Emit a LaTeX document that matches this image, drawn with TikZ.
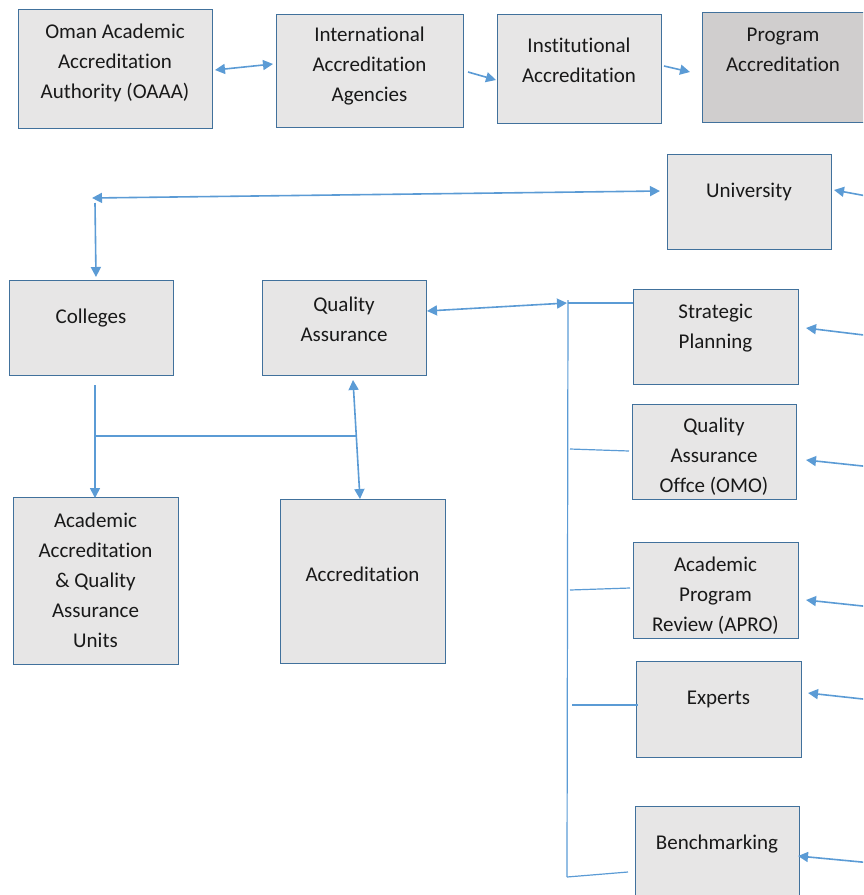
\documentclass[tikz,border=0pt]{standalone}
\usepackage{fontspec}
\setmainfont{Carlito}[Ligatures=NoCommon]
\usetikzlibrary{arrows.meta}
\definecolor{boxfill}{HTML}{E7E6E6}
\definecolor{boxdark}{HTML}{D0CECE}
\definecolor{boxline}{HTML}{41719C}
\definecolor{linkblue}{HTML}{5B9BD5}
\begin{document}
\begin{tikzpicture}[x=1pt,y=-1pt,
  box/.style={draw=boxline, fill=boxfill, line width=1.3pt, inner sep=0pt,
              anchor=north west},
  lbl/.style={align=center, font=\fontsize{21}{30}\selectfont, inner sep=0pt,
              text=black!90, yshift=-2pt},
  link/.style={draw=linkblue, line width=1.6pt},
  thin link/.style={draw=linkblue, line width=1.2pt},
  onehead/.style={-{Triangle[length=10pt,width=10pt]}},
  twohead/.style={{Triangle[length=10pt,width=10pt]}-{Triangle[length=10pt,width=10pt]}}
]
\useasboundingbox (0,0) rectangle (863,895);
\clip (0,0) rectangle (863,895);

% boxes
\node[box, minimum width=194pt, minimum height=119pt] (oaaa) at (18,9) {};
\node[box, minimum width=187pt, minimum height=113pt] (intl) at (276,14) {};
\node[box, minimum width=164pt, minimum height=109pt] (inst) at (497,14) {};
\node[box, fill=boxdark, minimum width=190pt, minimum height=110pt] (prog) at (702,12) {};
\node[box, minimum width=164pt, minimum height=95pt] (univ) at (667,154) {};
\node[box, minimum width=164pt, minimum height=95pt] (coll) at (9,280) {};
\node[box, minimum width=164pt, minimum height=95pt] (qa) at (262,280) {};
\node[box, minimum width=165pt, minimum height=95pt] (strat) at (633,289) {};
\node[box, minimum width=164pt, minimum height=95pt] (qaoff) at (632,404) {};
\node[box, minimum width=165pt, minimum height=96pt] (apr) at (633,542) {};
\node[box, minimum width=165pt, minimum height=96pt] (exp) at (636,661) {};
\node[box, minimum width=164pt, minimum height=110pt] (bench) at (635,806) {};
\node[box, minimum width=165pt, minimum height=167pt] (aaqa) at (13,497) {};
\node[box, minimum width=165pt, minimum height=164pt] (accr) at (280,499) {};

% labels
\node[lbl] (t-oaaa) at (115,61) {Oman Academic\\Accreditation\\Authority (OAAA)};
\node[lbl] (t-intl) at (369.5,64) {International\\Accreditation\\Agencies};
\node[lbl] (t-inst) at (579,58) {Institutional\\Accreditation};
\node[lbl] (t-prog) at (783,48) {Program\\Accreditation};
\node[lbl] (t-univ) at (749,190) {University};
\node[lbl] (t-coll) at (91,316) {Colleges};
\node[lbl] (t-qa) at (344,317) {Quality\\Assurance};
\node[lbl] (t-strat) at (715.5,326) {Strategic\\Planning};
\node[lbl] (t-qaoff) at (714,455) {Quality\\Assurance\\Offce (OMO)};
\node[lbl] (t-apr) at (715.5,594) {Academic\\Program\\Review (APRO)};
\node[lbl] (t-exp) at (718.5,697) {Experts};
\node[lbl] (t-bench) at (717,842) {Benchmarking};
\node[lbl] (t-aaqa) at (95.5,578) {Academic\\Accreditation\\\&~Quality\\Assurance\\Units};
\node[lbl] (t-accr) at (362.5,572) {Accreditation};

% connector end points
\coordinate (oa-r) at (215,70);
\coordinate (in-l) at (273,64);
\coordinate (in-r) at (468,72);
\coordinate (is-l) at (496,80);
\coordinate (is-r) at (664,66);
\coordinate (pr-l) at (690,72);
\coordinate (un-l) at (660,191);
\coordinate (corner) at (92,198);
\coordinate (drop) at (95,203);
\coordinate (co-t) at (96,277);
\coordinate (co-b) at (95,385);
\coordinate (split) at (95,436);
\coordinate (qa-split) at (356,436);
\coordinate (aa-t) at (95,498);
\coordinate (qa-b) at (353,380);
\coordinate (ac-t) at (360,499);
\coordinate (qa-r) at (427,311);
\coordinate (trunk-top) at (567,303);
\coordinate (trunk-a) at (568,300);
\coordinate (trunk-b) at (567,877);
\coordinate (br1) at (568,303);
\coordinate (br2) at (570,449);
\coordinate (br3) at (570,590);
\coordinate (br4) at (572,705);
\coordinate (br5) at (567,877);
\coordinate (st-l) at (633,303);
\coordinate (qo-l) at (629,451);
\coordinate (ap-l) at (630,588);
\coordinate (ex-l) at (638,705);
\coordinate (be-l) at (628,872);
\coordinate (in-univ) at (872,197);
\coordinate (un-r) at (834,190);
\coordinate (in-strat) at (872,336);
\coordinate (st-r) at (806,328);
\coordinate (in-qaoff) at (872,467);
\coordinate (qo-r) at (806,460);
\coordinate (in-apr) at (872,607);
\coordinate (ap-r) at (806,600);
\coordinate (in-exp) at (872,700);
\coordinate (ex-r) at (808,693);
\coordinate (in-bench) at (872,863);
\coordinate (be-r) at (798,856);

% top row
\draw[link, twohead] (oa-r) -- (in-l);
\draw[link, onehead] (in-r) -- (is-l);
\draw[link, onehead] (is-r) -- (pr-l);

% university to colleges
\draw[link, twohead] (corner) -- (un-l);
\draw[link, onehead] (drop) -- (co-t);
\draw[link, onehead] (in-univ) -- (un-r);

% colleges and quality assurance
\draw[link, onehead] (co-b) -- (aa-t);
\draw[link] (split) -- (qa-split);
\draw[link, twohead] (qa-b) -- (ac-t);
\draw[link, twohead] (qa-r) -- (trunk-top);

% trunk and branches
\draw[thin link] (trunk-a) -- (trunk-b);
\draw[thin link] (br1) -- (st-l);
\draw[thin link] (br2) -- (qo-l);
\draw[thin link] (br3) -- (ap-l);
\draw[thin link] (br4) -- (ex-l);
\draw[thin link] (br5) -- (be-l);

% incoming arrows on the right
\draw[link, onehead] (in-strat) -- (st-r);
\draw[link, onehead] (in-qaoff) -- (qo-r);
\draw[link, onehead] (in-apr) -- (ap-r);
\draw[link, onehead] (in-exp) -- (ex-r);
\draw[link, onehead] (in-bench) -- (be-r);
\end{tikzpicture}
\end{document}
